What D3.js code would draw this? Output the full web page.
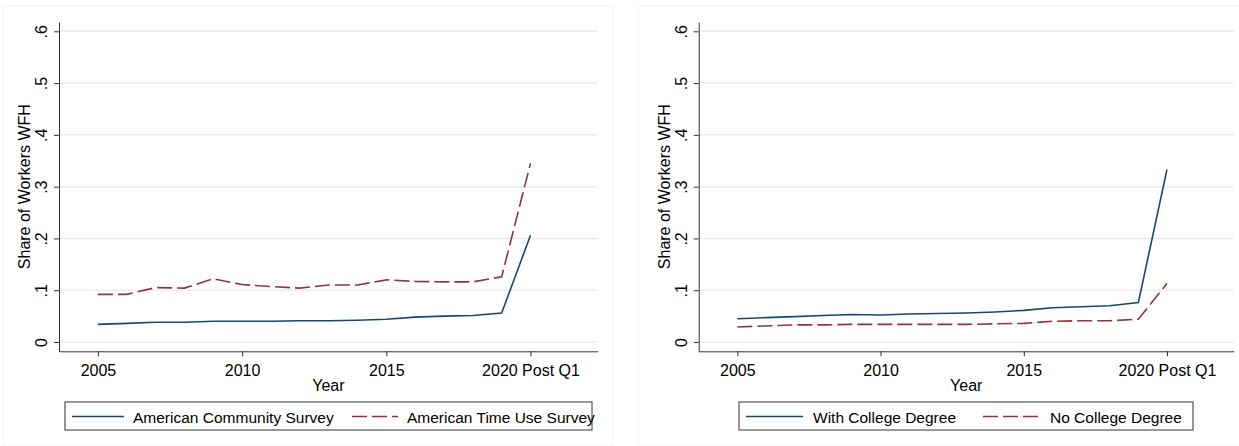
<!DOCTYPE html>
<html>
<head>
<meta charset="utf-8">
<script src="https://cdn.jsdelivr.net/npm/d3@7"></script>
<style>
  body { margin: 0; background: #fff; }
  text { font-family: "Liberation Sans", Arial, sans-serif; fill: #000; }
</style>
</head>
<body>
<div id="chart"></div>
<script>
// years on the x axis; the last point is 2020 post Q1
const years = [2005, 2006, 2007, 2008, 2009, 2010, 2011, 2012, 2013, 2014, 2015, 2016, 2017, 2018, 2019, 2020];
const xTicks = [2005, 2010, 2015, 2020];
const xTickLabels = ['2005', '2010', '2015', '2020 Post Q1'];
const yTicks = [0, 0.1, 0.2, 0.3, 0.4, 0.5, 0.6];

// left panel
const acs = [0.034, 0.036, 0.038, 0.038, 0.040, 0.040, 0.040, 0.041, 0.041, 0.042, 0.044, 0.048, 0.050, 0.051, 0.056, 0.206];
const atus = [0.092, 0.092, 0.105, 0.104, 0.122, 0.111, 0.107, 0.104, 0.110, 0.110, 0.120, 0.117, 0.116, 0.116, 0.126, 0.345];
// right panel
const college = [0.045, 0.047, 0.049, 0.051, 0.053, 0.052, 0.054, 0.055, 0.056, 0.058, 0.061, 0.066, 0.068, 0.070, 0.076, 0.333];
const noCollege = [0.029, 0.031, 0.033, 0.033, 0.034, 0.034, 0.034, 0.034, 0.034, 0.035, 0.036, 0.040, 0.041, 0.041, 0.044, 0.113];

const width = 1239, height = 446;
const navy = '#1a476f', maroon = '#90353b';
const fs = '16px';

const svg = d3.select('#chart').append('svg')
  .attr('width', width)
  .attr('height', height);

function drawPanel(opts) {
  const { frame, left, right, legendBox, series } = opts;
  const top = 22, bottom = 351.3;

  svg.append('rect')
    .attr('x', frame[0]).attr('y', 6)
    .attr('width', frame[1] - frame[0]).attr('height', 439)
    .attr('fill', '#fff').attr('stroke', '#f3f3f3');

  const x = d3.scaleLinear().domain([2003.65, 2022.33]).range([left, right]);
  const y = d3.scaleLinear().domain([-0.018, 0.618]).range([bottom, top]);

  // gridlines
  svg.append('g').selectAll('line').data(yTicks).join('line')
    .attr('x1', left + 1).attr('x2', right)
    .attr('y1', d => y(d)).attr('y2', d => y(d))
    .attr('stroke', '#ececec').attr('stroke-width', 1.5);

  const yAxis = svg.append('g')
    .attr('transform', `translate(${left},0)`)
    .call(d3.axisLeft(y).tickValues(yTicks).tickSize(5).tickSizeOuter(0)
      .tickFormat(d => d === 0 ? '0' : d3.format('.1f')(d).replace(/^0/, '')));
  yAxis.selectAll('text')
    .attr('x', null).attr('dy', null)
    .attr('transform', 'translate(-12,0) rotate(-90)')
    .attr('text-anchor', 'middle')
    .style('font-size', fs);

  const xAxis = svg.append('g')
    .attr('transform', `translate(0,${bottom})`)
    .call(d3.axisBottom(x).tickValues(xTicks).tickSize(5).tickPadding(8).tickSizeOuter(0)
      .tickFormat((d, i) => xTickLabels[i]));
  xAxis.selectAll('text').style('font-size', fs);

  svg.selectAll('.domain, .tick line').attr('stroke', '#333');
  svg.selectAll('.tick text').attr('fill', '#000').style('font-family', '"Liberation Sans", Arial, sans-serif');

  svg.append('text')
    .attr('transform', `translate(${left - 29},${(top + bottom) / 2}) rotate(-90)`)
    .attr('text-anchor', 'middle')
    .style('font-size', fs)
    .text('Share of Workers WFH');

  svg.append('text')
    .attr('x', (left + right) / 2).attr('y', 391)
    .attr('text-anchor', 'middle')
    .style('font-size', fs)
    .text('Year');

  const line = d3.line()
    .x((d, i) => x(years[i]))
    .y(d => y(d));

  series.forEach(s => {
    svg.append('path')
      .datum(s.values)
      .attr('d', line)
      .attr('fill', 'none')
      .attr('stroke', s.color)
      .attr('stroke-width', 1.6)
      .attr('stroke-dasharray', s.dash || null);
  });

  // legend
  svg.append('rect')
    .attr('x', legendBox[0]).attr('y', 402)
    .attr('width', legendBox[1] - legendBox[0]).attr('height', 28)
    .attr('fill', '#fff').attr('stroke', '#333');
  series.forEach(s => {
    svg.append('line')
      .attr('x1', s.key[0]).attr('x2', s.key[1])
      .attr('y1', 416.5).attr('y2', 416.5)
      .attr('stroke', s.color).attr('stroke-width', 1.6)
      .attr('stroke-dasharray', s.dash || null);
    svg.append('text')
      .attr('x', s.key[2]).attr('y', 422.5)
      .style('font-size', '15.5px')
      .text(s.name);
  });
}

drawPanel({
  frame: [3, 613],
  left: 59, right: 597.7,
  legendBox: [65, 592],
  series: [
    { name: 'American Community Survey', values: acs, color: navy, key: [72, 124, 133] },
    { name: 'American Time Use Survey', values: atus, color: maroon, dash: '15,5', key: [352, 398, 407] }
  ]
});

drawPanel({
  frame: [638, 1245],
  left: 698.7, right: 1233.7,
  legendBox: [739, 1193],
  series: [
    { name: 'With College Degree', values: college, color: navy, key: [746, 803, 813] },
    { name: 'No College Degree', values: noCollege, color: maroon, dash: '15,5', key: [983, 1040, 1050] }
  ]
});
</script>
</body>
</html>
